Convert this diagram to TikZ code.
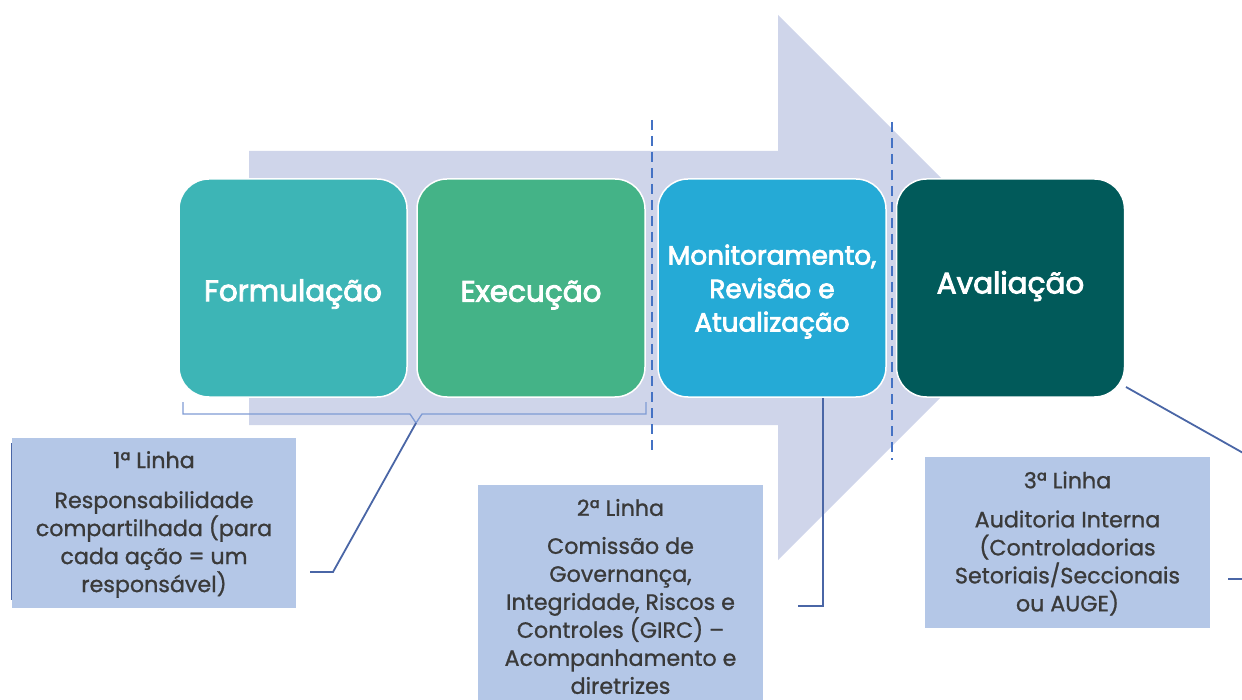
\documentclass[tikz,border=0pt]{standalone}
\usepackage{fontspec}
\setmainfont{Poppins}
\newfontfamily\pmed[FakeBold=3]{Poppins}
\newfontfamily\preg[FakeBold=1]{Poppins}
\definecolor{arrowc}{HTML}{CFD5EA}
\definecolor{cform}{HTML}{3DB5B6}
\definecolor{cexec}{HTML}{44B387}
\definecolor{cmon}{HTML}{25AAD6}
\definecolor{caval}{HTML}{015A5A}
\definecolor{clabel}{HTML}{B4C7E7}
\definecolor{cline}{HTML}{4A66A6}
\definecolor{cbrace}{HTML}{7F9BD4}
\definecolor{cdash}{HTML}{4472C4}
\definecolor{ctext}{HTML}{3A3A3A}
\tikzset{
  stage/.style={draw=white, line width=1.5pt, rounded corners=30pt, minimum width=228pt, minimum height=218pt, inner sep=0pt},
  stagetext/.style={inner sep=0pt, text=white, align=center, font=\pmed\fontsize{29.5}{34}\selectfont},
  montext/.style={stagetext, font=\pmed\fontsize{26.3}{33.5}\selectfont},
  linebox/.style={fill=clabel, inner sep=0pt},
  linetext/.style={inner sep=0pt, text=ctext, align=center, font=\preg\fontsize{22.2}{28}\selectfont},
  conn/.style={draw=cline, line width=1.8pt},
  bracel/.style={draw=cbrace, line width=1.3pt},
  dashline/.style={draw=cdash, line width=1.5pt, dash pattern=on 10pt off 6pt}
}
\begin{document}
\begin{tikzpicture}[x=1pt,y=-1pt]
\useasboundingbox (0,0) rectangle (1242,700);
\clip (0,0) rectangle (1242,700);
% big arrow
\fill[arrowc] (249,151) -- (778,151) -- (778,15) -- (1050.5,287.5) -- (778,560) -- (778,425) -- (249,425) -- cycle;
% dashed separators
\draw[dashline] (652,120) -- (652,455);
\draw[dashline] (892,122) -- (892,460);
% stages
\node[stage, fill=cform, label={[stagetext, yshift=-6pt]center:Formulação}] (form) at (293,288) {};
\node[stage, fill=cexec, label={[stagetext, yshift=-7pt]center:Execução}] (exec) at (531,288) {};
\node[stage, fill=cmon, label={[montext, yshift=-3.5pt]center:Monitoramento,\\Revisão e\\Atualização}] (mon) at (772,288) {};
\node[stage, fill=caval, label={[stagetext, yshift=2pt]center:Avaliação}] (aval) at (1010.5,288) {};
% label boxes
\node[linebox, minimum width=284pt, minimum height=170pt, label={[linetext, yshift=-1.5pt]center:1ª Linha\\[12pt]Responsabilidade\\compartilhada (para\\cada ação = um\\responsável)}] (l1) at (154,523) {};
\node[linebox, minimum width=285pt, minimum height=223pt, label={[linetext]center:2ª Linha\\[10pt]Comissão de\\Governança,\\Integridade, Riscos e\\Controles (GIRC) –\\Acompanhamento e\\diretrizes}] (l2) at (620.5,596.5) {};
\node[linebox, minimum width=285pt, minimum height=171pt, label={[linetext, yshift=-1pt]center:3ª Linha\\[11pt]Auditoria Interna\\(Controladorias\\Setoriais/Seccionais\\ou AUGE)}] (l3) at (1067.5,542.5) {};
% brace under first line
\coordinate (bl) at (183,402);
\coordinate (br) at (646,402);
\coordinate (bt) at (416,423);
\draw[bracel] (bl) |- (410,414) -- (bt) -- (422,414) -| (br);
\coordinate (c1) at (333,572);
\coordinate (c1e) at (310,572);
\draw[conn] (bt) -- (c1) -- (c1e);
% second line connector
\coordinate (m1) at (823,398);
\coordinate (m2) at (823,606);
\coordinate (m3) at (798,606);
\draw[conn] (m1) -- (m2) -- (m3);
% third line connector
\coordinate (a1) at (1126,387);
\coordinate (a2) at (1300,485);
\draw[conn] (a1) -- (a2);
\coordinate (a3) at (1228,579);
\coordinate (a4) at (1250,579);
\draw[conn] (a3) -- (a4);
% left edge line
\coordinate (e1) at (11.5,443);
\coordinate (e2) at (11.5,600);
\draw[conn, line width=1.5pt] (e1) -- (e2);
\end{tikzpicture}
\end{document}
